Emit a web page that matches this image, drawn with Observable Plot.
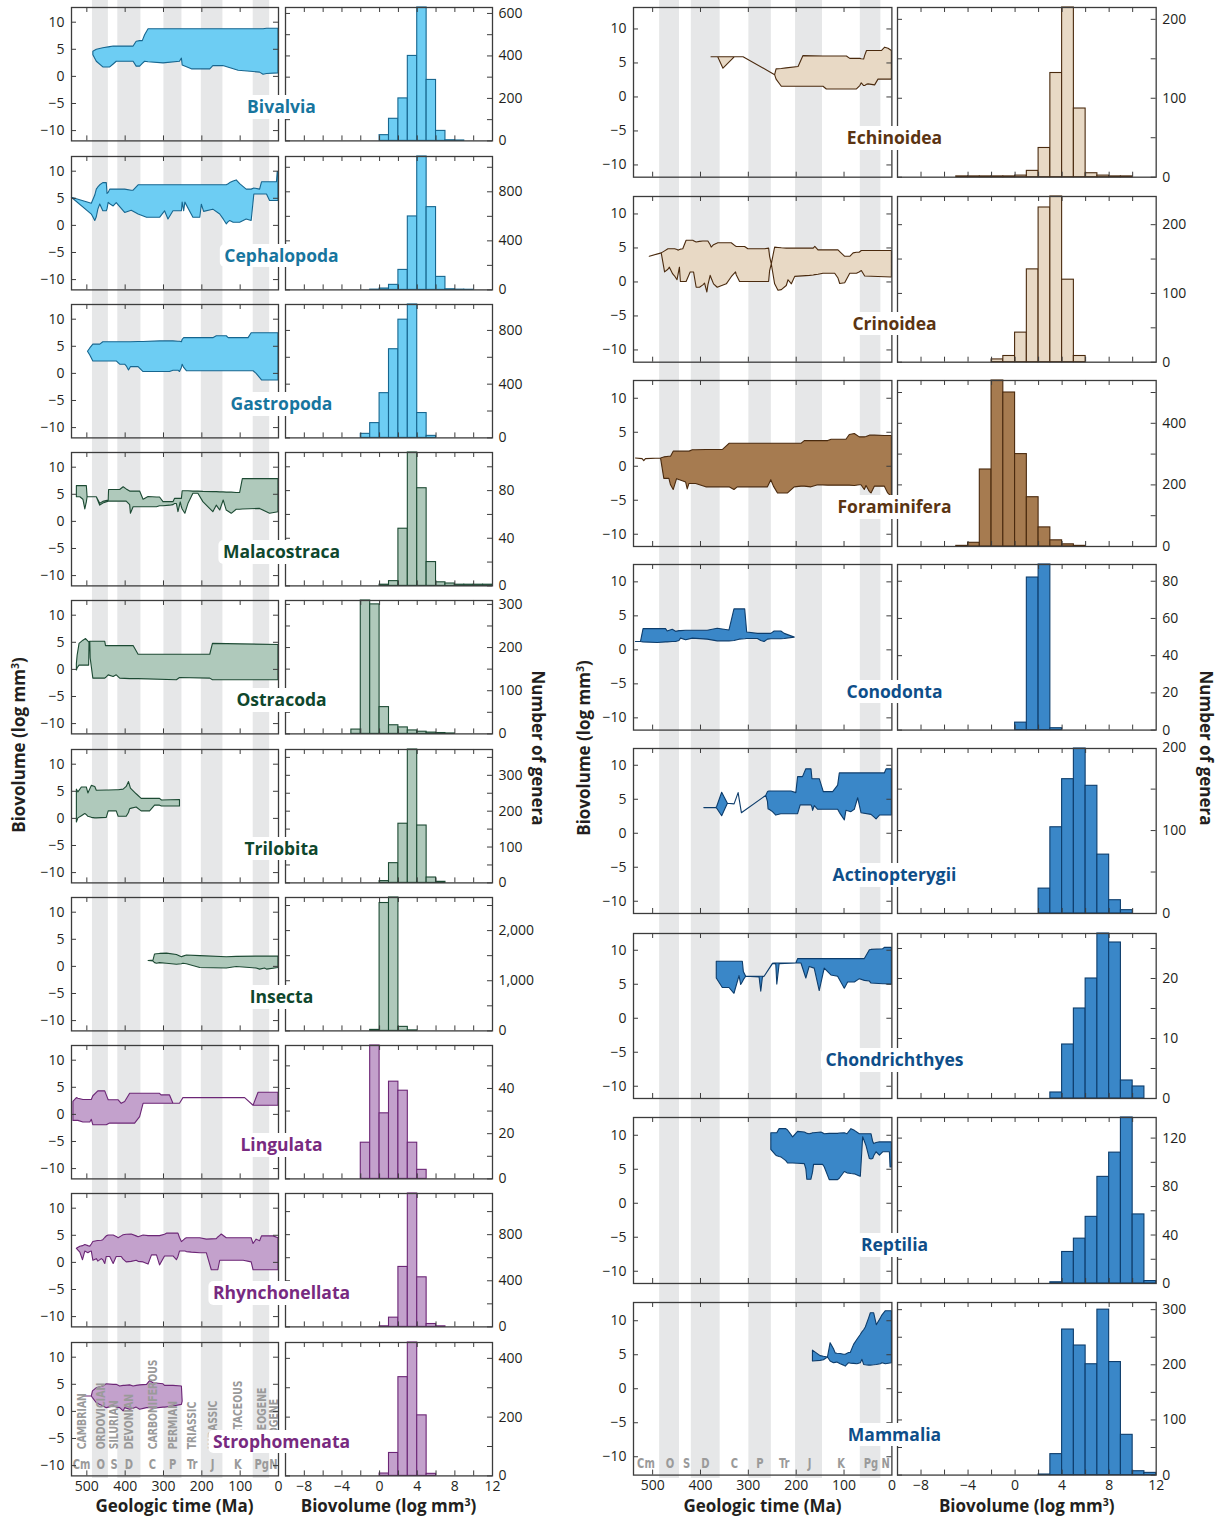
<!DOCTYPE html>
<html>
<head>
<meta charset="utf-8">
<script src="https://cdn.jsdelivr.net/npm/d3@7"></script>
<script src="https://cdn.jsdelivr.net/npm/@observablehq/plot@0.6"></script>
<style>
  body { margin: 0; background: #fff; }
  #chart { position: relative; width: 1220px; height: 1520px; font-family: "Open Sans", sans-serif; color: #231f20; overflow: hidden; }
  .lbl { position: absolute; transform: translate(-50%, -50%); background: #fff; font-weight: 700; font-size: 17.5px;
         padding: 1px 5px; border-radius: 5px; white-space: nowrap; line-height: 1.25; }
  .title { position: absolute; font-weight: 700; font-size: 17px; white-space: nowrap; line-height: 1; }
  .title sup { font-size: 0.62em; vertical-align: 0.55em; line-height: 0; }
</style>
</head>
<body>
<div id="chart"></div>
<script>
// ---------------- axis / tick values ----------------
const timeTicks = [500, 400, 300, 200, 100];
const timeTickLabels = [500, 400, 300, 200, 100, 0];
const biovolumeTicks = [-10, -5, 0, 5, 10];
const histXTicks = [-8, -6, -4, -2, 0, 2, 4, 6, 8, 10];
const histXTickLabels = [-8, -4, 0, 4, 8, 12];

// shaded periods (Ma): Ordovician, Devonian, Permian, Jurassic, Paleogene
const shadedPeriods = [[485.4, 443.8], [419.2, 358.9], [298.9, 251.9], [201.3, 145.0], [66.0, 23.0]];
const periodNames = ["CAMBRIAN", "ORDOVICIAN", "SILURIAN", "DEVONIAN", "CARBONIFEROUS", "PERMIAN", "TRIASSIC", "JURASSIC", "CRETACEOUS", "PALEOGENE", "NEOGENE"];
const periodAbbrev = ["Cm", "O", "S", "D", "C", "P", "Tr", "J", "K", "Pg", "N"];
const periodMid = [514, 464, 429, 390, 329, 276, 225, 172, 106, 44, 13];

// ---------------- time series: [Ma, lower, upper] (log mm3) ----------------
const bivalviaRange = [[483,3.9,4.55],[474,2.7,4.9],[457,1.65,5.2],[439,1.65,5.4],[430,2.2,5.5],[422,2.7,5.5],[378,2.7,5.5],[370,1.8,6.4],[361,1.8,6.5],[354,2.3,6.5],[348,2.7,7.6],[339,2.6,8.7],[300,2.4,8.7],[257,2.7,8.7],[252,3.3,8.7],[250,2.0,8.7],[226,1.3,8.7],[178,1.3,8.7],[170,1.9,8.7],[144,1.9,8.7],[104,1.05,8.7],[48,0.7,8.7],[39,0.3,8.7],[30,0.45,8.8],[0,0.55,8.8]];
const cephalopodaRange = [[539,5.1,5.1],[487,2.0,4.0],[478,0.8,5.5],[474,1.5,6.6],[470,2.9,7.0],[465,3.85,7.4],[457,2.6,7.8],[448,2.6,7.8],[446,3.0,5.8],[443,4.15,6.0],[439,3.9,6.6],[430,3.5,6.6],[422,4.1,6.6],[400,2.3,6.6],[383,2.7,6.4],[378,2.5,6.4],[365,2.0,7.4],[343,1.4,7.4],[309,1.4,7.4],[296,2.6,7.4],[287,1.1,7.4],[274,2.6,7.4],[252,2.6,7.4],[250,4.2,7.4],[246,2.6,7.4],[243,4.2,7.4],[222,1.4,7.4],[204,1.4,7.4],[200,3.8,7.4],[194,2.5,7.4],[170,2.9,7.4],[152,2.0,7.4],[143,1.1,7.4],[135,0.2,7.4],[130,0.6,7.6],[126,0.8,7.8],[117,0.5,8.1],[109,0.5,8.3],[100,0.5,7.6],[83,1.1,6.6],[70,0.8,6.6],[63,5.7,6.8],[48,5.7,6.6],[43,5.7,7.95],[30,5.7,7.95],[22,4.5,7.95],[4,4.5,7.95],[2,4.5,9.85],[0,4.5,9.85]];
const gastropodaRange = [[497,4.0,4.0],[491,3.3,4.6],[483,2.2,5.3],[465,2.2,5.3],[457,2.2,5.75],[422,2.2,5.75],[413,1.6,5.75],[400,1.6,5.75],[396,1.3,5.75],[390,0.55,5.75],[385,1.15,5.75],[365,1.15,5.8],[352,0.25,5.8],[309,0.25,5.9],[283,0.25,5.9],[274,0.5,5.9],[261,0.5,5.85],[257,0.25,5.85],[252,1.0,5.75],[250,1.6,6.2],[246,1.0,6.5],[239,0.4,6.5],[170,0.4,6.5],[161,0.4,6.85],[135,0.4,6.85],[130,0.4,6.5],[78,0.4,6.5],[70,0.4,7.4],[65,0.4,7.4],[57,-0.1,7.4],[43,-1.3,7.4],[0,-1.3,7.4]];
const malacostracaRange = [[526,4.45,6.5],[517,4.45,6.5],[509,4.0,6.5],[504,2.2,6.5],[500,3.5,6.5],[498,4.45,4.45],[474,4.45,4.45],[465,2.9,3.25],[457,3.3,3.6],[443,3.65,3.85],[442,3.65,5.8],[413,3.65,5.8],[404,3.65,6.3],[396,3.65,5.9],[387,3.0,5.5],[385,1.4,5.5],[378,2.6,5.5],[361,2.6,5.5],[352,2.6,4.0],[339,2.6,4.5],[317,2.6,4.4],[309,2.8,4.4],[300,2.8,3.55],[283,2.9,3.55],[274,3.0,3.55],[270,3.2,4.15],[265,3.2,4.15],[261,1.7,4.15],[255,3.5,4.15],[252,2.6,4.15],[250,2.2,5.55],[243,1.4,5.55],[235,3.2,5.55],[222,5.1,5.5],[209,5.1,5.5],[196,3.55,5.45],[170,1.7,5.4],[161,2.9,5.4],[152,2.0,5.35],[143,3.85,5.35],[135,2.0,5.3],[122,1.4,5.3],[109,2.15,5.25],[100,2.15,5.25],[93,2.2,7.8],[48,2.3,7.8],[22,1.4,7.8],[0,1.7,7.8]];
const ostracodaRange = [[526,-0.2,1.0],[524,0.2,2.55],[519,0.7,4.7],[509,0.7,5.3],[502,0.7,5.6],[494,0.7,5.0],[493,5.0,5.0],[491,5.1,5.1],[490,2.0,5.1],[483,-1.7,5.1],[452,-1.7,5.1],[450,-1.6,4.3],[443,-1.1,4.3],[430,-1.4,4.3],[422,-1.1,4.3],[413,-1.7,4.3],[387,-1.8,4.3],[378,-1.8,4.3],[365,-1.8,2.7],[265,-2.0,2.7],[257,-1.6,2.7],[178,-1.7,2.7],[171,-2.0,4.7],[0,-2.0,4.5]];
const trilobitaRange = [[526,-0.75,5.3],[522,0.0,4.8],[513,0.4,5.7],[504,0.8,5.7],[500,0.6,5.7],[496,0.3,4.6],[487,0.1,6.0],[478,0.0,5.8],[474,0.0,5.1],[448,0.1,5.15],[443,1.3,5.15],[422,1.3,5.2],[417,0.3,5.2],[404,0.3,5.3],[396,0.3,5.8],[390,1.0,6.7],[387,1.7,6.0],[385,1.75,5.5],[370,2.0,4.45],[357,1.3,3.6],[335,1.3,3.6],[322,2.35,3.6],[309,2.35,3.6],[304,2.2,3.3],[257,2.2,3.4]];
const insectaRange = [[339,1.0,1.0],[326,0.9,1.1],[322,0.6,2.2],[317,0.5,2.25],[309,0.6,2.3],[291,0.5,2.35],[265,0.3,2.1],[252,0.4,1.7],[248,0.5,1.8],[239,0.4,2.0],[204,-0.3,1.9],[135,-0.4,1.7],[109,-0.1,1.75],[57,-0.4,1.8],[48,-0.6,1.8],[35,-0.4,1.8],[30,-0.6,1.8],[0,-0.3,1.8]];
const lingulataRange = [[535,-1.2,2.3],[526,-1.2,3.0],[522,-1.2,2.9],[509,-1.5,2.65],[491,-1.5,2.65],[487,-1.0,2.65],[483,-2.0,3.35],[470,-2.0,4.25],[452,-2.0,4.25],[448,-2.0,3.5],[443,-1.8,2.6],[439,-1.7,2.6],[417,-1.7,2.6],[409,-1.7,1.95],[400,-1.7,2.3],[387,-1.7,3.8],[374,-1.7,3.8],[361,-0.5,3.8],[352,1.95,3.8],[309,1.95,3.8],[305,1.95,3.5],[283,1.95,3.5],[274,1.95,1.95],[257,1.95,1.95],[248,3.0,3.0],[87,3.0,3.0],[65,1.6,1.6],[52,1.6,4.0],[0,1.6,4.0]];
const rhynchonellataRange = [[526,2.5,2.5],[517,1.8,2.9],[510,0.4,3.0],[504,2.0,3.2],[496,1.7,3.0],[491,1.9,2.9],[487,2.0,3.3],[483,0.3,3.75],[474,0.6,3.9],[470,0.15,3.95],[461,0.6,4.0],[457,0.4,4.1],[452,-0.3,4.5],[448,1.0,4.8],[443,1.0,4.95],[439,1.0,4.95],[430,-0.3,4.95],[422,1.0,4.7],[417,1.0,4.45],[409,1.0,4.8],[404,0.5,5.0],[396,0.0,5.1],[383,0.1,5.15],[370,0.3,4.8],[365,0.1,4.65],[352,0.0,4.95],[339,-0.4,4.85],[330,1.3,4.85],[317,1.3,4.85],[309,-0.55,4.85],[296,1.1,5.1],[291,1.1,5.3],[274,1.1,5.3],[265,0.4,5.3],[261,1.0,5.3],[257,2.0,4.5],[252,2.0,3.75],[243,2.0,4.3],[239,1.9,4.45],[226,1.8,4.45],[204,1.7,4.45],[187,1.7,4.2],[174,-1.45,4.25],[161,-1.45,4.3],[157,-1.45,4.6],[152,0.3,4.9],[148,0.3,5.15],[135,0.3,4.45],[91,0.3,4.45],[70,0.0,4.45],[65,-1.45,3.4],[57,-1.45,4.2],[48,-1.45,3.9],[43,-1.45,4.8],[13,-1.45,4.8],[0,-1.45,4.45]];
const strophomenataRange = [[509,2.75,2.75],[487,2.75,2.75],[484,2.45,3.7],[474,1.5,4.3],[465,1.2,4.45],[457,0.9,4.6],[448,0.6,5.0],[430,0.9,4.9],[422,0.7,4.9],[413,0.6,4.6],[404,0.0,4.7],[400,0.6,4.7],[387,0.3,4.8],[378,0.5,4.6],[370,0.7,4.7],[361,0.3,4.8],[343,0.6,4.9],[335,0.6,5.6],[326,0.5,5.2],[300,0.7,5.0],[296,0.7,4.7],[274,0.9,4.7],[252,1.2,4.6],[250,1.8,1.8]];
const echinoideaRange = [[377,5.85,5.85],[363,5.85,5.85],[352,4.15,5.85],[328,5.85,5.85],[310,5.85,5.85],[244,3.2,3.2],[241,2.55,4.05],[230,1.5,4.1],[220,1.5,4.2],[195,1.5,4.4],[185,1.5,6.0],[143,1.5,5.95],[136,1.1,5.95],[94,1.1,5.95],[87,1.1,5.6],[73,1.1,5.6],[66,1.6,5.6],[63,2.0,5.55],[58,1.6,5.5],[56,1.6,6.0],[52,1.8,6.75],[49,1.85,6.75],[35,1.7,6.75],[28,2.55,6.75],[21,2.55,6.75],[14,2.55,7.25],[7,2.55,7.1],[0,2.55,6.75]];
const crinoideaRange = [[506,3.7,3.7],[481,4.2,4.2],[474,1.4,4.5],[467,1.8,4.8],[464,2.1,4.8],[457,1.1,4.8],[453,0.8,4.8],[448,0.25,4.7],[446,1.0,4.6],[443,2.1,4.7],[441,0.0,4.75],[436,0.0,4.8],[429,0.0,6.05],[420.5,1.4,6.05],[415,1.4,6.05],[413.5,1.4,6.0],[408,-0.85,5.8],[401,-0.85,5.9],[394,-0.5,5.95],[390.5,-0.25,5.95],[385.6,-1.55,5.95],[383.5,-0.5,5.95],[378.7,0.9,5.4],[376.6,0.5,5.05],[371.7,-0.35,5.4],[364,-0.85,5.65],[362.6,-0.8,5.7],[345,-0.35,5.7],[334.7,0.7,5.7],[325.7,1.4,5.2],[324.3,1.0,5.15],[317.3,0.0,5.15],[306.8,0.0,5.15],[299.9,0.0,4.8],[265,0.0,4.8],[256.6,0.0,4.9],[254.5,1.6,3.7],[251,2.6,2.6],[244,-0.35,5.05],[237,-1.3,5.0],[230,-1.2,4.95],[219.7,-0.6,4.9],[216,0.25,4.9],[209,-0.35,4.9],[202,0.75,4.9],[171,0.9,4.9],[163.4,0.95,4.9],[160,1.0,5.15],[153.4,1.05,4.65],[142.9,1.2,4.65],[118.5,1.2,4.65],[111.6,0.5,4.65],[108,-0.3,4.4],[97.6,-0.2,3.7],[87,1.2,3.7],[80,1.2,4.2],[73,1.2,4.3],[67.5,1.4,4.3],[62.8,1.6,4.55],[55.8,0.8,4.55],[0,0.65,4.55]];
const foraminiferaRange = [[535,1.15,1.15],[521,1.05,1.05],[517.5,0.75,0.75],[514,1.05,1.05],[482.5,1.15,1.15],[475.6,-1.85,1.3],[465,-1.85,1.4],[461.6,-2.8,1.4],[456,-3.5,2.15],[449,-1.9,2.15],[437,-2.2,2.15],[430,-2.4,2.15],[426.7,-3.4,2.15],[423,-2.6,2.15],[416,-2.6,2.35],[409,-2.6,2.35],[388,-3.1,2.4],[353,-3.1,2.4],[339.4,-3.1,3.3],[329,-3.5,3.3],[322,-3.1,3.3],[259,-3.1,3.3],[252,-2.05,3.3],[246.5,-3.0,3.3],[238,-4.0,3.3],[217,-4.0,3.3],[203,-3.1,3.3],[189,-3.0,3.3],[182,-3.0,3.7],[168,-3.1,3.7],[154,-2.8,3.7],[133,-2.85,3.7],[126,-2.85,3.9],[95,-2.85,3.9],[88,-2.85,4.6],[77.5,-2.9,4.75],[67,-2.8,4.25],[63.6,-2.8,4.25],[56.6,-3.5,4.25],[53,-2.9,4.3],[46,-3.8,4.5],[42.6,-4.0,4.5],[35.6,-3.0,4.5],[14.7,-3.0,4.45],[7.7,-4.0,4.45],[0,-4.55,4.45]];
const conodontaRange = [[535,1.15,1.15],[524.4,1.15,1.15],[519,1.1,3.05],[489.5,1.0,3.05],[472,1.1,3.05],[468.6,1.1,2.7],[458,1.15,2.95],[451,1.15,2.65],[444,1.3,2.75],[440.6,1.65,2.75],[430,1.4,2.8],[416,1.65,2.8],[385,1.5,2.8],[364,1.25,3.1],[339.4,1.25,2.85],[329,1.3,5.95],[318.4,1.5,5.95],[306.6,1.55,5.95],[302.4,1.6,2.55],[280,1.6,2.35],[273,1.3,2.35],[266,1.15,2.35],[259,1.5,2.35],[252,1.55,2.35],[245,1.55,2.7],[231,1.55,2.7],[224,1.6,2.35],[203,1.8,1.8]];
const actinopterygiiRange = [[392,3.7,3.7],[367,3.7,3.7],[365,3.6,3.9],[354.7,2.5,5.95],[342.7,4.35,4.35],[328.7,4.25,4.25],[320.3,5.9,5.9],[313.5,2.95,2.95],[262.6,5.5,5.5],[259,4.6,6.05],[257.7,3.5,6.1],[255.6,3.45,6.15],[248.6,3.1,6.15],[241.6,2.6,6.15],[231,2.8,6.15],[210,2.8,6.15],[199.7,2.8,5.9],[196,2.8,8.25],[190.6,4.1,8.25],[185.8,4.1,8.25],[178.8,4.1,9.4],[168,4.1,9.4],[166,3.8,7.95],[164.7,3.3,7.95],[161,4.0,7.95],[154,3.45,7.95],[150.7,3.45,7.95],[142.3,3.45,6.05],[122.7,3.45,6.05],[112.3,3.45,7.0],[108.8,3.0,8.8],[98.3,1.9,8.8],[95,3.3,8.8],[84.5,3.1,8.8],[77.5,3.45,8.8],[70.5,5.15,8.8],[63.5,2.95,8.8],[42.6,2.7,8.8],[32,2.05,8.8],[25,2.6,8.8],[14.7,2.6,8.8],[11.2,2.6,9.4],[0,2.6,9.4]];
const chondrichthyesRange = [[366,5.85,8.3],[353.4,4.45,8.3],[339.4,4.45,8.3],[329,3.6,8.3],[318.4,6.2,8.3],[315,4.9,8.3],[311.5,5.3,8.3],[309.4,5.6,6.8],[304.5,6.1,6.1],[276.5,6.0,6.1],[273,3.9,6.1],[269.5,6.0,6.1],[266,6.1,6.1],[248.6,7.95,8.0],[245,7.95,8.05],[241.6,7.9,8.05],[239.5,4.95,8.05],[234.6,7.95,8.05],[199.7,8.05,8.05],[196,8.05,8.7],[189,8.05,8.7],[178.8,5.85,8.7],[171.8,7.55,8.7],[161.3,7.3,8.7],[150.8,4.0,8.7],[140.4,7.3,8.7],[126.4,6.3,8.7],[112.4,6.1,8.7],[98.4,4.35,8.7],[91.4,5.25,8.7],[77.4,5.25,8.7],[66.9,5.75,8.7],[56.5,5.5,8.7],[46,5.4,10.0],[42.6,5.1,10.05],[18.2,5.0,10.15],[14.7,5.0,10.35],[0,4.95,10.35]];
const reptiliaRange = [[252,7.85,10.3],[241.6,7.0,10.3],[239.5,6.9,10.3],[234.6,6.8,10.9],[231,6.75,10.9],[220.7,6.2,10.9],[217,5.85,10.7],[206.4,5.85,9.7],[196,5.8,10.5],[182,5.75,10.4],[178.8,5.0,10.3],[176.7,3.45,10.2],[171.8,3.45,10.15],[168.3,3.45,10.2],[164.8,4.5,10.3],[162.7,5.65,10.3],[147.3,5.65,10.4],[143.9,5.65,10.3],[140.4,5.3,10.15],[129.9,3.4,10.2],[112.4,3.4,10.2],[108.9,3.6,10.25],[98.4,4.6,10.3],[92.8,4.4,10.15],[84.5,4.3,10.9],[77.4,4.25,10.65],[67,3.95,10.15],[64.9,3.9,10.15],[60,9.7,10.15],[53,8.4,10.15],[46,6.5,10.15],[42.6,6.45,10.15],[39,6.5,9.0],[37,6.9,8.7],[32,7.5,8.85],[25,7.0,8.95],[18.2,7.5,8.95],[4.2,7.5,8.95],[2.8,5.25,8.95],[0,5.25,8.95]];
const mammaliaRange = [[165,4.0,5.6],[149,4.1,4.8],[142,4.2,4.7],[133.6,4.6,4.6],[128,4.0,6.7],[121,3.75,5.8],[117.5,3.8,5.2],[114,3.85,5.15],[107,3.6,5.1],[100,3.4,5.0],[96.5,3.25,5.0],[89.5,3.75,5.25],[86,3.7,5.25],[79,3.65,6.45],[72,3.6,7.2],[65,3.75,7.9],[61.5,4.25,8.3],[58,3.5,8.6],[54.5,3.45,9.0],[47.6,3.4,10.35],[44,3.4,11.1],[37,3.45,11.1],[31.5,3.5,9.35],[23,3.6,10.35],[19.6,3.75,10.8],[12.6,3.6,11.4],[0,3.75,11.4]];

// ---------------- histograms: [bin start (log mm3), number of genera] ----------------
const bivalviaHist = [[0,27],[1,104],[2,200],[3,400],[4,628],[5,287],[6,47],[7,3],[8,2]];
const cephalopodaHist = [[-1,2],[0,11],[1,41],[2,163],[3,599],[4,1088],[5,675],[6,106],[7,5],[8,2],[9,1]];
const gastropodaHist = [[-2,30],[-1,110],[0,333],[1,660],[2,880],[3,993],[4,185],[5,15]];
const malacostracaHist = [[0,1],[1,4],[2,48],[3,112],[4,82],[5,20],[6,3],[7,2],[8,1],[9,1],[10,1],[11,1]];
const ostracodaHist = [[-3,10],[-2,309],[-1,300],[0,62],[1,20],[2,15],[3,8],[4,5],[5,3],[6,2],[7,1]];
const trilobitaHist = [[0,5],[1,55],[2,165],[3,372],[4,160],[5,15],[6,3]];
const insectaHist = [[-1,20],[0,2550],[1,2660],[2,80],[3,10]];
const lingulataHist = [[-2,16],[-1,59],[0,29],[1,43],[2,39],[3,16],[4,4]];
const rhynchonellataHist = [[0,5],[1,80],[2,520],[3,1157],[4,430],[5,25],[6,5]];
const strophomenataHist = [[0,8],[1,78],[2,336],[3,454],[4,206],[5,7]];
const echinoideaHist = [[-5,1],[-4,1],[-3,1],[-2,1],[-1,1],[0,2],[1,8],[2,37],[3,132],[4,215],[5,87],[6,5],[7,2],[8,1],[9,1]];
const crinoideaHist = [[-2,4],[-1,9],[0,43],[1,135],[2,225],[3,241],[4,120],[5,9]];
const foraminiferaHist = [[-5,2],[-4,12],[-3,250],[-2,539],[-1,500],[0,300],[1,160],[2,62],[3,20],[4,7],[5,2]];
const conodontaHist = [[0,4],[1,82],[2,89],[3,1]];
const actinopterygiiHist = [[2,30],[3,104],[4,162],[5,199],[6,154],[7,71],[8,16],[9,4]];
const chondrichthyesHist = [[3,1],[4,9],[5,15],[6,20],[7,27.5],[8,26],[9,3],[10,2]];
const reptiliaHist = [[3,1],[4,26],[5,37],[6,55],[7,88],[8,108],[9,137],[10,57],[11,2]];
const mammaliaHist = [[2,1],[3,38],[4,264],[5,235],[6,201],[7,300],[8,205],[9,73],[10,7],[11,4]];

// ---------------- panel lists ----------------
const leftTaxa = ["Bivalvia","Cephalopoda","Gastropoda","Malacostraca","Ostracoda","Trilobita","Insecta","Lingulata","Rhynchonellata","Strophomenata"];
const leftGroups = ["mollusc","mollusc","mollusc","arthropod","arthropod","arthropod","arthropod","brachiopod","brachiopod","brachiopod"];
const leftRanges = [bivalviaRange, cephalopodaRange, gastropodaRange, malacostracaRange, ostracodaRange, trilobitaRange, insectaRange, lingulataRange, rhynchonellataRange, strophomenataRange];
const leftHists = [bivalviaHist, cephalopodaHist, gastropodaHist, malacostracaHist, ostracodaHist, trilobitaHist, insectaHist, lingulataHist, rhynchonellataHist, strophomenataHist];
const leftHistMax = [628, 1088, 993, 112, 309, 372, 2660, 59, 1157, 454];
const leftHistLabels = [[0,200,400,600],[0,400,800],[0,400,800],[0,40,80],[0,100,200,300],[0,100,200,300],[0,1000,2000],[0,20,40],[0,400,800],[0,200,400]];
const leftHistMinor = [100, 200, 200, 20, 50, 50, 500, 10, 200, 100];

const rightTaxa = ["Echinoidea","Crinoidea","Foraminifera","Conodonta","Actinopterygii","Chondrichthyes","Reptilia","Mammalia"];
const rightGroups = ["echinoderm","echinoderm","foram","chordate","chordate","chordate","chordate","chordate"];
const rightRanges = [echinoideaRange, crinoideaRange, foraminiferaRange, conodontaRange, actinopterygiiRange, chondrichthyesRange, reptiliaRange, mammaliaRange];
const rightHists = [echinoideaHist, crinoideaHist, foraminiferaHist, conodontaHist, actinopterygiiHist, chondrichthyesHist, reptiliaHist, mammaliaHist];
const rightHistMax = [215, 241, 539, 89, 199, 27.5, 137, 313];
const rightHistLabels = [[0,100,200],[0,100,200],[0,200,400],[0,20,40,60,80],[0,100,200],[0,10,20],[0,40,80,120],[0,100,200,300]];
const rightHistMinor = [50, 50, 100, 20, 50, 5, 20, 50];

// ---------------- styles ----------------
const palette = {
  mollusc:    {fill: "#6dcdf3", stroke: "#17668f", label: "#17759e"},
  arthropod:  {fill: "#afc9bb", stroke: "#1c4a33", label: "#0f472d"},
  brachiopod: {fill: "#c3a1cc", stroke: "#6c2676", label: "#782a80"},
  echinoderm: {fill: "#e8d9c5", stroke: "#4a2a0e", label: "#5b3412"},
  foram:      {fill: "#a67b50", stroke: "#4a2a0e", label: "#5b3412"},
  chordate:   {fill: "#3a87c8", stroke: "#0d3d6c", label: "#0e4e89"}
};
const frameColor = "#3c3c3c";
const bandColor = "#e6e7e8";
const periodColor = "#9a9a9a";
const periodFont = "'Liberation Sans Narrow', 'DejaVu Sans Condensed', sans-serif";
const fmt = d3.format(",");

const chart = document.getElementById("chart");
function place(svg, left, top) {
  svg.style.position = "absolute";
  svg.style.left = left + "px";
  svg.style.top = top + "px";
  svg.style.overflow = "visible";
  svg.style.background = "transparent";
  svg.style.maxWidth = "none";
  svg.style.fontFamily = "'Open Sans', sans-serif";
  svg.style.fontSize = "14px";
  svg.style.color = "#231f20";
  chart.appendChild(svg);
}
// squeeze the condensed geologic labels horizontally (keeps glyph height)
function condense(svg, words, factor) {
  const set = new Set(words);
  svg.querySelectorAll("text").forEach(t => {
    if (!set.has(t.textContent)) return;
    const len = t.getComputedTextLength();
    if (len > 0) {
      t.setAttribute("textLength", (len * factor).toFixed(1));
      t.setAttribute("lengthAdjust", "spacingAndGlyphs");
    }
  });
}

function bands(x0, W, totalH) {
  const svg = Plot.plot({
    width: W, height: totalH, margin: 0,
    x: {domain: [540, 0], axis: null},
    y: {domain: [0, 1], axis: null},
    marks: [Plot.rect(shadedPeriods, {x1: d => d[0], x2: d => d[1], y1: 0, y2: 1, fill: bandColor})]
  });
  place(svg, x0, 0);
}

function timePanel(range, pal, x0, y0, W, H, yDomain, bottom, withNames, abbrevY) {
  const mL = 40, mR = 1, mT = 1, mB = bottom ? 26 : 1;
  const marks = [
    Plot.areaY(range, {x: d => d[0], y1: d => d[1], y2: d => d[2], fill: pal.fill, stroke: pal.stroke, strokeWidth: 1.1, strokeLinejoin: "round"})
  ];
  if (withNames) {
    marks.push(Plot.text(periodNames, {x: (d, i) => periodMid[i], y: -7, text: d => d, rotate: -90, textAnchor: "start",
      fill: periodColor, fontWeight: "bold", fontSize: 13, fontFamily: periodFont}));
  }
  if (abbrevY !== null) {
    marks.push(Plot.text(periodAbbrev, {x: (d, i) => periodMid[i], y: abbrevY, text: d => d,
      fill: periodColor, fontWeight: "bold", fontSize: 13.5, fontFamily: periodFont}));
  }
  marks.push(
    Plot.tickY(biovolumeTicks, {y: d => d, insetRight: W - 5, stroke: frameColor}),
    Plot.tickY(biovolumeTicks, {y: d => d, insetLeft: W - 5, stroke: frameColor}),
    Plot.tickX(timeTicks, {x: d => d, insetTop: H - 5, stroke: frameColor}),
    Plot.tickX(timeTicks, {x: d => d, insetBottom: H - 5, stroke: frameColor}),
    Plot.frame({stroke: frameColor, strokeWidth: 1.3})
  );
  const svg = Plot.plot({
    width: W + mL + mR, height: H + mT + mB,
    marginLeft: mL, marginRight: mR, marginTop: mT, marginBottom: mB,
    x: {domain: [540, 0], axis: bottom ? "bottom" : null, ticks: timeTickLabels, tickSize: 0, tickPadding: 5, label: null, tickFormat: d3.format("d")},
    y: {domain: yDomain, axis: "left", ticks: biovolumeTicks, tickSize: 0, tickPadding: 7, label: null, tickFormat: fmt},
    marks
  });
  place(svg, x0 - mL, y0 - mT);
  if (withNames) condense(svg, periodNames, 0.8);
  if (abbrevY !== null) condense(svg, periodAbbrev, 0.82);
}

function histPanel(hist, pal, x0, y0, W, H, yMax, labels, minor, bottom) {
  const mL = 1, mR = 44, mT = 1, mB = bottom ? 26 : 1;
  const minorTicks = d3.range(0, yMax + 1e-9, minor);
  const svg = Plot.plot({
    width: W + mL + mR, height: H + mT + mB,
    marginLeft: mL, marginRight: mR, marginTop: mT, marginBottom: mB,
    x: {domain: [-10, 12], axis: bottom ? "bottom" : null, ticks: histXTickLabels, tickSize: 0, tickPadding: 5, label: null, tickFormat: fmt},
    y: {domain: [0, yMax], axis: "right", ticks: labels, tickSize: 0, tickPadding: 6, label: null, tickFormat: fmt},
    marks: [
      Plot.rect(hist, {x1: d => d[0], x2: d => d[0] + 1, y1: 0, y2: d => Math.min(d[1], yMax), fill: pal.fill, stroke: pal.stroke, strokeWidth: 1.1}),
      Plot.tickY(minorTicks, {y: d => d, insetRight: W - 5, stroke: frameColor}),
      Plot.tickY(minorTicks, {y: d => d, insetLeft: W - 5, stroke: frameColor}),
      Plot.tickX(histXTicks, {x: d => d, insetTop: H - 5, stroke: frameColor}),
      Plot.tickX(histXTicks, {x: d => d, insetBottom: H - 5, stroke: frameColor}),
      Plot.frame({stroke: frameColor, strokeWidth: 1.3})
    ]
  });
  place(svg, x0 - mL, y0 - mT);
}

function addLabel(text, color, cx, cy) {
  const d = document.createElement("div");
  d.className = "lbl";
  d.textContent = text;
  d.style.color = color;
  d.style.left = cx + "px";
  d.style.top = cy + "px";
  chart.appendChild(d);
}
function addTitle(html, cx, cy, rot) {
  const d = document.createElement("div");
  d.className = "title";
  d.innerHTML = html;
  d.style.left = cx + "px";
  d.style.top = cy + "px";
  d.style.transform = "translate(-50%, -50%)" + (rot ? ` rotate(${rot}deg)` : "");
  chart.appendChild(d);
}

// ---------------- layout ----------------
const LEFT = {tX: 71, tW: 207, hX: 285, hW: 207, top0: 7.3, step: 148.25, H: 133.4, yDom: [-11.9, 12.71]};
const RIGHT = {tX: 633.3, tW: 258.4, hX: 897.3, hW: 258.7,
  tops: [7.3, 196, 379.5, 564, 748, 933.3, 1117.3, 1301.7],
  heights: [169.7, 165.7, 166, 165.6, 165, 165, 166, 172.6]};

bands(LEFT.tX, LEFT.tW, 1478);
bands(RIGHT.tX, RIGHT.tW, 1478);

leftTaxa.forEach((name, i) => {
  const pal = palette[leftGroups[i]];
  const top = LEFT.top0 + i * LEFT.step;
  const bottom = i === leftTaxa.length - 1;
  timePanel(leftRanges[i], pal, LEFT.tX, top, LEFT.tW, LEFT.H, LEFT.yDom, bottom, bottom, bottom ? -9.8 : null);
  histPanel(leftHists[i], pal, LEFT.hX, top, LEFT.hW, LEFT.H, leftHistMax[i], leftHistLabels[i], leftHistMinor[i], bottom);
});
rightTaxa.forEach((name, i) => {
  const pal = palette[rightGroups[i]];
  const top = RIGHT.tops[i], H = RIGHT.heights[i];
  const bottom = i === rightTaxa.length - 1;
  const lo = bottom ? -12.7 : -11.8;
  timePanel(rightRanges[i], pal, RIGHT.tX, top, RIGHT.tW, H, [lo, lo + H / 6.8], bottom, false, bottom ? -11 : null);
  histPanel(rightHists[i], pal, RIGHT.hX, top, RIGHT.hW, H, rightHistMax[i], rightHistLabels[i], rightHistMinor[i], bottom);
});

// taxon labels (drawn above panels)
leftTaxa.forEach((name, i) => {
  const top = LEFT.top0 + i * LEFT.step;
  addLabel(name, palette[leftGroups[i]].label, 281.5, top + 0.75 * LEFT.H);
});
rightTaxa.forEach((name, i) => {
  addLabel(name, palette[rightGroups[i]].label, 894.5, RIGHT.tops[i] + 0.77 * RIGHT.heights[i]);
});

// axis titles
addTitle("Geologic time (Ma)", 174.5, 1505, 0);
addTitle("Biovolume (log mm<sup>3</sup>)", 388.5, 1505, 0);
addTitle("Geologic time (Ma)", 762.5, 1505, 0);
addTitle("Biovolume (log mm<sup>3</sup>)", 1026.7, 1505, 0);
addTitle("Biovolume (log mm<sup>3</sup>)", 18, 745, -90);
addTitle("Biovolume (log mm<sup>3</sup>)", 583, 748, -90);
addTitle("Number of genera", 538, 748, 90);
addTitle("Number of genera", 1206, 748, 90);
</script>
</body>
</html>
